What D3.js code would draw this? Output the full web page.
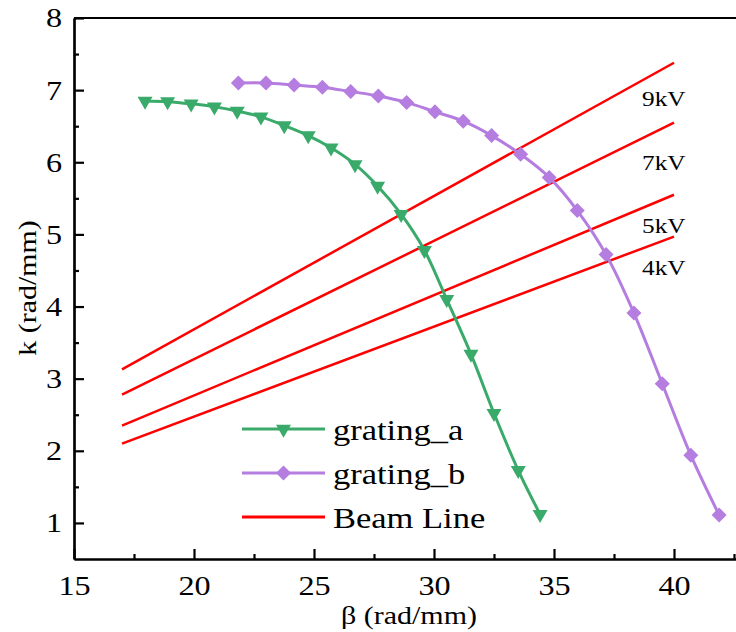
<!DOCTYPE html>
<html>
<head>
<meta charset="utf-8">
<script src="https://cdn.jsdelivr.net/npm/d3@7"></script>
<style>
  body { margin: 0; background: #fff; }
  svg { display: block; }
  svg text { font-family: "Times New Roman", "Liberation Serif", Tinos, serif; }
</style>
</head>
<body>
<div id="chart"></div>
<script>
// Chart values
const betaA = [17.96, 18.90, 19.88, 20.85, 21.80, 22.79, 23.76, 24.76, 25.71, 26.71, 27.65, 28.63, 29.60, 30.53, 31.54, 32.50, 33.51, 34.42];
const kA    = [6.85, 6.84, 6.81, 6.77, 6.71, 6.63, 6.51, 6.37, 6.20, 5.97, 5.67, 5.28, 4.78, 4.10, 3.34, 2.52, 1.73, 1.12];

const betaB = [21.85, 23.00, 24.17, 25.35, 26.53, 27.68, 28.86, 30.04, 31.22, 32.40, 33.61, 34.80, 35.97, 37.17, 38.33, 39.51, 40.70, 41.88];
const kB    = [7.10, 7.10, 7.07, 7.04, 6.98, 6.92, 6.83, 6.70, 6.57, 6.37, 6.11, 5.79, 5.33, 4.72, 3.91, 2.93, 1.94, 1.11];

// Beam lines (k = beta * v/c), drawn between beta = 17 and 40
const beamLabels = ["9kV", "7kV", "5kV", "4kV"];
const beamBeta   = [17, 40];
const beamKStart = [3.13, 2.78, 2.35, 2.10];
const beamKEnd   = [7.38, 6.55, 5.55, 4.97];

const xMajor = [15, 20, 25, 30, 35, 40];
const xMinor = [17.5, 22.5, 27.5, 32.5, 37.5, 42.5];
const yMajor = [1, 2, 3, 4, 5, 6, 7, 8];
const yMinor = [1.5, 2.5, 3.5, 4.5, 5.5, 6.5, 7.5];

const legendNames = ["grating_a", "grating_b", "Beam Line"];

// Size and styling
const width = 736;
const height = 632;
const stretch = 1.15;   // text in the figure is a little wider than plain Times
const green = "#3aaa6a";
const purple = "#b47ddf";
const red = "#ff0000";

const svg = d3.select("#chart").append("svg")
    .attr("width", width)
    .attr("height", height)
    .style("overflow", "hidden");

// Scales (right side of the frame runs past the picture edge)
const x = d3.scaleLinear().domain([15, 45]).range([74, 794]);
const y = d3.scaleLinear().domain([0.5, 8]).range([559, 18]);

// Axes
const xAxis = svg.append("g")
    .attr("transform", `translate(0,${y(0.5)})`)
    .call(d3.axisBottom(x).tickValues(xMajor).tickSizeInner(-10).tickSizeOuter(0).tickPadding(16));
svg.append("g")
    .attr("transform", `translate(0,${y(0.5)})`)
    .call(d3.axisBottom(x).tickValues(xMinor).tickSizeInner(-5).tickSizeOuter(0).tickFormat(""));

const yAxis = svg.append("g")
    .attr("transform", `translate(${x(15)},0)`)
    .call(d3.axisLeft(y).tickValues(yMajor).tickSizeInner(-10).tickSizeOuter(0).tickPadding(12));
svg.append("g")
    .attr("transform", `translate(${x(15)},0)`)
    .call(d3.axisLeft(y).tickValues(yMinor).tickSizeInner(-5).tickSizeOuter(0).tickFormat(""));

svg.selectAll(".domain, .tick line")
    .attr("stroke", "#000")
    .attr("stroke-width", 2.2);

svg.selectAll("g").attr("font-family", null);
svg.selectAll(".tick text")
    .attr("fill", "#000")
    .attr("font-size", 28)
    .attr("transform", `scale(${stretch},1)`);
yAxis.selectAll(".tick text").attr("x", -12 / stretch);

// top frame line
svg.append("line")
    .attr("x1", x(15)).attr("x2", x(45))
    .attr("y1", y(8)).attr("y2", y(8))
    .attr("stroke", "#000")
    .attr("stroke-width", 2.2);

// Axis titles
svg.append("text")
    .attr("transform", `translate(409,624) scale(1.2,1)`)
    .attr("text-anchor", "middle")
    .attr("font-size", 25)
    .text("β (rad/mm)");

svg.append("text")
    .attr("transform", `translate(36,288) rotate(-90) scale(${stretch},1)`)
    .attr("text-anchor", "middle")
    .attr("font-size", 26)
    .text("k (rad/mm)");

// Beam lines
beamLabels.forEach((lab, i) => {
    const pts = [[beamBeta[0], beamKStart[i]], [beamBeta[1], beamKEnd[i]]];
    svg.append("path")
        .datum(pts)
        .attr("d", d3.line().x(d => x(d[0])).y(d => y(d[1])))
        .attr("fill", "none")
        .attr("stroke", red)
        .attr("stroke-width", 2.5);
});

// kV labels, placed under the right end of each beam line
const kvBaseline = [106, 170, 233, 275];
beamLabels.forEach((lab, i) => {
    svg.append("text")
        .attr("transform", `translate(642,${kvBaseline[i]}) scale(${stretch},1)`)
        .attr("font-size", 22)
        .text(lab);
});

// Dispersion curves
const curve = d3.line()
    .x(d => x(d[0]))
    .y(d => y(d[1]))
    .curve(d3.curveCatmullRom);

const triDown = "M-7.5,-4.3L7.5,-4.3L0,8.7Z";
const diamond = "M0,-7.5L7.5,0L0,7.5L-7.5,0Z";

const dataA = betaA.map((b, i) => [b, kA[i]]);
const dataB = betaB.map((b, i) => [b, kB[i]]);

svg.append("path")
    .datum(dataA)
    .attr("d", curve)
    .attr("fill", "none")
    .attr("stroke", green)
    .attr("stroke-width", 3);
svg.append("g").selectAll("path")
    .data(dataA)
    .join("path")
    .attr("d", triDown)
    .attr("transform", d => `translate(${x(d[0])},${y(d[1])})`)
    .attr("fill", green);

svg.append("path")
    .datum(dataB)
    .attr("d", curve)
    .attr("fill", "none")
    .attr("stroke", purple)
    .attr("stroke-width", 3);
svg.append("g").selectAll("path")
    .data(dataB)
    .join("path")
    .attr("d", diamond)
    .attr("transform", d => `translate(${x(d[0])},${y(d[1])})`)
    .attr("fill", purple);

// Legend
const legendColors = [green, purple, red];
const legendMarks = [triDown, diamond, null];
const legend = svg.append("g");
legendNames.forEach((name, i) => {
    const ly = 429 + i * 44;
    legend.append("line")
        .attr("x1", 242).attr("x2", 325)
        .attr("y1", ly).attr("y2", ly)
        .attr("stroke", legendColors[i])
        .attr("stroke-width", 3);
    if (legendMarks[i]) {
        legend.append("path")
            .attr("d", legendMarks[i])
            .attr("transform", `translate(283.5,${ly})`)
            .attr("fill", legendColors[i]);
    }
    legend.append("text")
        .attr("transform", `translate(333,${ly + 11}) scale(${stretch},1)`)
        .attr("font-size", 30)
        .text(name);
});
</script>
</body>
</html>
